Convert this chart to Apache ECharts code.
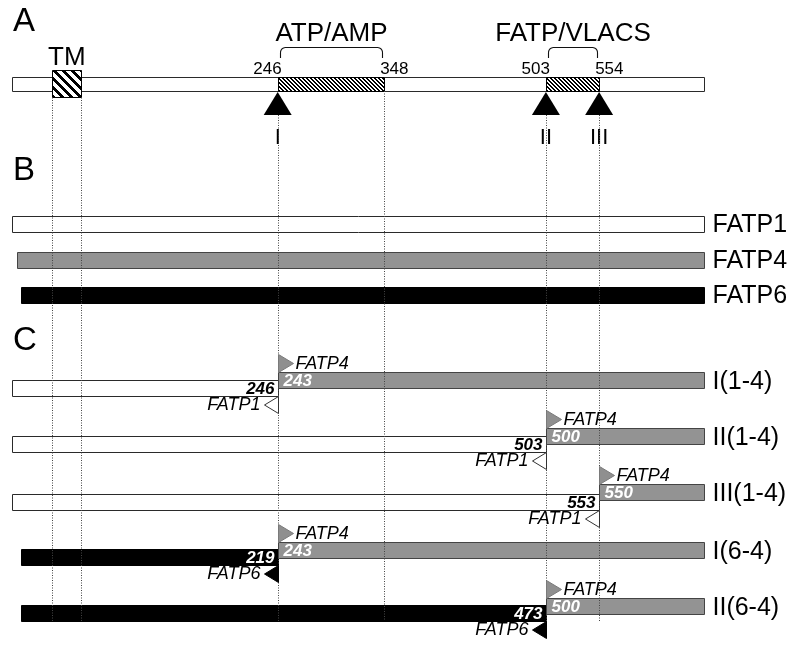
<!DOCTYPE html>
<html>
<head>
<meta charset="utf-8">
<title>FATP chimeras</title>
<script src="https://cdn.jsdelivr.net/npm/echarts@6/dist/echarts.min.js"></script>
<style>
  html, body { margin: 0; padding: 0; background: #fff; }
  #chart { width: 800px; height: 646px; }
</style>
</head>
<body>
<div id="chart"></div>
<script>
// residue positions along the schematic (FATP1 numbering)
const trackEnd = 654
const proteins = ['FATP1', 'FATP4', 'FATP6']
const proteinStart = [-9, -4, 0]

const tmDomain = [30, 58]
const domainNames = ['ATP/AMP', 'FATP/VLACS']
const domainFrom = [246, 503]
const domainTo = [348, 554]

const siteNames = ['I', 'II', 'III']
const sitePos = [246, 503, 554]

const chimeraNames = ['I(1-4)', 'II(1-4)', 'III(1-4)', 'I(6-4)', 'II(6-4)']
const chimeraSite = [0, 1, 2, 0, 1]
const chimeraDonor = ['FATP1', 'FATP1', 'FATP1', 'FATP6', 'FATP6']
const donorJunction = [246, 503, 553, 219, 473]
const fatp4Junction = [243, 500, 550, 243, 500]

// vertical layout (lanes, top to bottom)
const laneA = 84
const laneB = [224, 259.5, 294.5]
const laneC = [380, 436, 492, 550, 606]
const laneCLow = [388, 444, 502, 557, 613]
const barH = 16
const guideEnd = 621

const FONT = '"Liberation Sans", Arial, sans-serif'
const proteinFill = ['#ffffff', '#939393', '#000000']
const proteinStroke = ['#2a2a2a', '#444444', '#000000']

// crisp pixel hatch: stripes running top-left to bottom-right
function hatch(size, width) {
  const c = document.createElement('canvas')
  c.width = size
  c.height = size
  const g = c.getContext('2d')
  g.fillStyle = '#fff'
  g.fillRect(0, 0, size, size)
  g.fillStyle = '#000'
  for (let y = 0; y < size; y++) {
    for (let x = 0; x < size; x++) {
      if ((((x - y) % size) + size) % size < width) g.fillRect(x, y, 1, 1)
    }
  }
  return c
}
const thickHatch = { image: hatch(9, 4), repeat: 'repeat' }
const fineHatch = { image: hatch(4, 2), repeat: 'repeat' }

function bandRect(api, from, to, lane, h) {
  const a = api.coord([from, lane])
  const b = api.coord([to, lane])
  const hh = api.size([0, h])[1]
  const x0 = Math.round(a[0]) + 0.5
  const x1 = Math.round(b[0]) + 0.5
  const y0 = Math.round(a[1] - hh / 2) + 0.5
  return { x: x0, y: y0, width: x1 - x0, height: Math.round(hh) }
}

function text(x, y, str, font, align, fill) {
  return {
    type: 'text', x: x, y: y,
    style: { text: str, font: font, fill: fill || '#000', align: align, verticalAlign: 'middle' }
  }
}

function xOf(api, v) { return api.coord([v, 0])[0] }
function yOf(api, v) { return api.coord([0, v])[1] }

// panel A: full-length protein with TM and the two motifs
function renderProteinA(params, api) {
  const bar = bandRect(api, proteinStart[0], trackEnd, laneA, 14)
  const tm = bandRect(api, tmDomain[0], tmDomain[1], laneA - 0.5, 27)
  const tmCenter = xOf(api, (tmDomain[0] + tmDomain[1]) / 2)
  return {
    type: 'group',
    children: [
      { type: 'rect', shape: bar, style: { fill: '#fff', stroke: '#2a2a2a', lineWidth: 1 } },
      { type: 'rect', shape: tm, style: { fill: thickHatch, stroke: '#000', lineWidth: 1 } },
      text(tmCenter, yOf(api, laneA - 26), 'TM', '26px ' + FONT, 'center')
    ]
  }
}

function bracketPoints(x0, x1, yBottom, yTop, r) {
  const pts = [[x0, yBottom]]
  for (let k = 0; k <= 6; k++) {
    const t = Math.PI + (k / 6) * (Math.PI / 2)
    pts.push([x0 + r + r * Math.cos(t), yTop + r + r * Math.sin(t)])
  }
  for (let k = 0; k <= 6; k++) {
    const t = 1.5 * Math.PI + (k / 6) * (Math.PI / 2)
    pts.push([x1 - r + r * Math.cos(t), yTop + r + r * Math.sin(t)])
  }
  pts.push([x1, yBottom])
  return pts
}

function renderDomain(params, api) {
  const i = params.dataIndex
  const box = bandRect(api, domainFrom[i], domainTo[i], laneA, 14)
  const x0 = xOf(api, domainFrom[i])
  const x1 = xOf(api, domainTo[i])
  const bx0 = Math.round(x0 + 2) + 0.5
  const bx1 = Math.round(x1 - 2) + 0.5
  return {
    type: 'group',
    children: [
      { type: 'rect', shape: box, style: { fill: fineHatch, stroke: '#000', lineWidth: 1 } },
      text(x0 + 4, yOf(api, laneA - 15), String(domainFrom[i]), '17px ' + FONT, 'right'),
      text(x1 - 4, yOf(api, laneA - 15), String(domainTo[i]), '17px ' + FONT, 'left'),
      {
        type: 'polyline',
        shape: { points: bracketPoints(bx0, bx1, yOf(api, laneA - 26), Math.round(yOf(api, laneA - 37)) + 0.5, 5) },
        style: { fill: null, stroke: '#111', lineWidth: 1.1 }
      },
      text((bx0 + bx1) / 2, yOf(api, laneA - 50), domainNames[i], '26px ' + FONT, 'center')
    ]
  }
}

function renderSite(params, api) {
  const i = params.dataIndex
  const x = xOf(api, sitePos[i])
  const apex = yOf(api, laneA + 8)
  const base = yOf(api, laneA + 31)
  return {
    type: 'group',
    children: [
      { type: 'polygon', shape: { points: [[x, apex], [x + 14, base], [x - 14, base]] }, style: { fill: '#000' } },
      text(x, yOf(api, laneA + 53.5), siteNames[i], '22px ' + FONT, 'center')
    ]
  }
}

// panel B: the three parental proteins
function renderTrack(params, api) {
  const i = params.dataIndex
  const r = bandRect(api, proteinStart[i], trackEnd, laneB[i], barH)
  return {
    type: 'group',
    children: [
      { type: 'rect', shape: r, style: { fill: proteinFill[i], stroke: proteinStroke[i], lineWidth: 1 } },
      text(r.x + r.width + 8, r.y + r.height / 2 + 1, proteins[i], '25px ' + FONT, 'left')
    ]
  }
}

// panel C: chimera bars
function renderChimera(params, api) {
  const i = params.dataIndex
  const site = sitePos[chimeraSite[i]]
  const d = proteins.indexOf(chimeraDonor[i])
  const low = bandRect(api, proteinStart[d], site, laneCLow[i], barH)
  const up = bandRect(api, site, trackEnd, laneC[i], barH)
  return {
    type: 'group',
    children: [
      { type: 'rect', shape: low, style: { fill: proteinFill[d], stroke: proteinStroke[d], lineWidth: 1 } },
      { type: 'rect', shape: up, style: { fill: proteinFill[1], stroke: proteinStroke[1], lineWidth: 1 } },
      text(up.x + up.width + 8, up.y + up.height / 2 + 2, chimeraNames[i], '25px ' + FONT, 'left')
    ]
  }
}

function renderChimeraNotes(params, api) {
  const i = params.dataIndex
  const site = sitePos[chimeraSite[i]]
  const d = proteins.indexOf(chimeraDonor[i])
  const low = bandRect(api, proteinStart[d], site, laneCLow[i], barH)
  const up = bandRect(api, site, trackEnd, laneC[i], barH)
  const jx = up.x
  const upTop = up.y
  const lowBottom = low.y + low.height
  const numFont = 'italic bold 17px ' + FONT
  const tagFont = 'italic 18px ' + FONT
  return {
    type: 'group',
    children: [
      { type: 'polygon', shape: { points: [[jx, upTop - 18], [jx + 15, upTop - 9], [jx, upTop]] },
        style: { fill: '#8f8f8f', stroke: '#7a7a7a', lineWidth: 1 } },
      text(jx + 17, upTop - 8.5, 'FATP4', tagFont, 'left'),
      { type: 'polygon', shape: { points: [[jx, lowBottom], [jx - 14, lowBottom + 8.5], [jx, lowBottom + 17]] },
        style: { fill: proteinFill[d], stroke: d === 0 ? '#333' : '#000', lineWidth: 1 } },
      text(jx - 18, lowBottom + 8.5, chimeraDonor[i], tagFont, 'right'),
      text(jx - 4, low.y + low.height / 2 + 1, String(donorJunction[i]), numFont, 'right', d === 0 ? '#000' : '#fff'),
      text(jx + 5, up.y + up.height / 2 + 1, String(fatp4Junction[i]), numFont, 'left', '#fff')
    ]
  }
}

// dotted guides dropping from panel A to the bottom
const guidePos = [tmDomain[0], tmDomain[1], sitePos[0], domainTo[0], sitePos[1], sitePos[2]]
const guideFrom = [laneA + 13.5, laneA + 13.5, laneA + 31, laneA + 7, laneA + 31, laneA + 31]

function renderGuide(params, api) {
  const i = params.dataIndex
  const x = Math.round(xOf(api, guidePos[i])) + 0.5
  return {
    type: 'line',
    shape: { x1: x, y1: yOf(api, guideFrom[i]), x2: x, y2: yOf(api, guideEnd) },
    style: { stroke: '#444', lineWidth: 1, lineDash: [1, 1.5] }
  }
}

function customSeries(name, count, renderItem, z) {
  return {
    type: 'custom',
    name: name,
    coordinateSystem: 'cartesian2d',
    data: Array.from({ length: count }, (_, i) => [i, 0]),
    renderItem: renderItem,
    clip: false,
    silent: true,
    z: z
  }
}

const chart = echarts.init(document.getElementById('chart'))
chart.setOption({
  animation: false,
  backgroundColor: '#fff',
  grid: { left: 10.5, right: 79.8, top: 0, bottom: 0 },
  xAxis: { type: 'value', min: -10, max: 670, show: false },
  yAxis: { type: 'value', min: 0, max: 646, inverse: true, show: false },
  graphic: [
    { type: 'text', x: 13, y: 22, style: { text: 'A', font: '33px ' + FONT, fill: '#000', verticalAlign: 'middle' } },
    { type: 'text', x: 13, y: 171, style: { text: 'B', font: '33px ' + FONT, fill: '#000', verticalAlign: 'middle' } },
    { type: 'text', x: 13, y: 341, style: { text: 'C', font: '33px ' + FONT, fill: '#000', verticalAlign: 'middle' } }
  ],
  series: [
    customSeries('protein', 1, renderProteinA, 2),
    customSeries('domains', domainNames.length, renderDomain, 3),
    customSeries('sites', sitePos.length, renderSite, 3),
    customSeries('parents', proteins.length, renderTrack, 2),
    customSeries('chimeras', chimeraNames.length, renderChimera, 2),
    customSeries('guides', guidePos.length, renderGuide, 4),
    customSeries('notes', chimeraNames.length, renderChimeraNotes, 5)
  ]
})
</script>
</body>
</html>
